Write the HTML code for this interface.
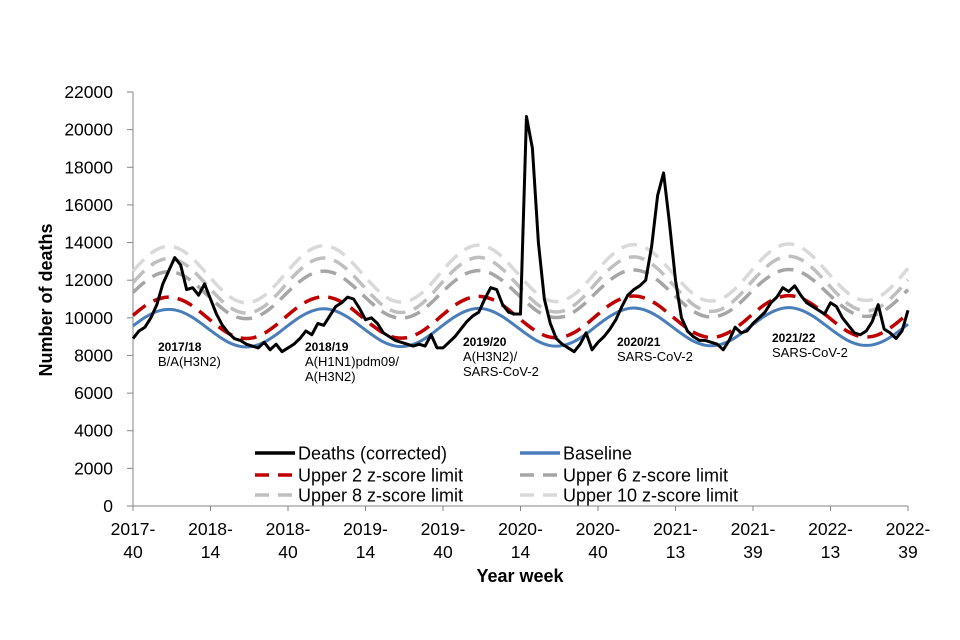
<!DOCTYPE html>
<html><head><meta charset="utf-8"><style>
body{margin:0;background:#fff;}
svg{display:block;font-family:"Liberation Sans",Arial,sans-serif;}
</style></head><body>
<svg id="chart" width="960" height="640" viewBox="0 0 960 640">
<g id="axes"></g>
<g id="series"></g>
<g id="notes"></g>
<g id="legend"></g>
<text x="520" y="582" text-anchor="middle" font-size="18" font-weight="bold">Year week</text>
<text transform="translate(52,300) rotate(-90)" text-anchor="middle" font-size="18" font-weight="bold">Number of deaths</text>
</svg>
<script>
const yTicks=[0,2000,4000,6000,8000,10000,12000,14000,16000,18000,20000,22000];
const xTickWeeks=[0,26,52,78,104,130,156,182,208,234,260];
const xTickLabels=[["2017-","40"],["2018-","14"],["2018-","40"],["2019-","14"],["2019-","40"],["2020-","14"],["2020-","40"],["2021-","13"],["2021-","39"],["2022-","13"],["2022-","39"]];
// deaths every 2 weeks from 2017-40
const deaths=[8900,9300,9500,10000,10700,11800,12500,13200,12800,11500,11600,11200,11800,11000,10200,9600,9200,8900,8800,8600,8500,8400,8700,8300,8600,8200,8400,8600,8900,9300,9100,9700,9600,10100,10600,10800,11100,11000,10500,9900,10000,9700,9200,9000,8800,8700,8600,8500,8600,8500,9100,8400,8400,8700,9000,9400,9800,10100,10300,11000,11600,11500,10700,10300,10200,10200,20700,19000,14000,11000,9700,8900,8600,8400,8200,8600,9200,8300,8700,9000,9400,9900,10600,11200,11500,11700,12000,13800,16500,17700,15000,12000,10000,9300,9000,8800,8800,8700,8600,8300,8800,9500,9200,9300,9700,10000,10300,10800,11100,11600,11400,11700,11200,10800,10600,10400,10200,10800,10600,10000,9600,9200,9100,9300,9800,10700,9400,9200,8900,9300,10400];
// smooth series every 4 weeks
const baseline=[9570,10020,10335,10450,10335,10020,9570,9100,8700,8480,8480,8700,9100,9590,10040,10360,10480,10360,10040,9590,9120,8720,8500,8500,8720,9120,9610,10060,10380,10500,10380,10060,9610,9140,8740,8520,8520,8740,9140,9630,10080,10400,10520,10400,10080,9630,9160,8760,8540,8540,8760,9160,9650,10100,10420,10540,10420,10100,9650,9180,8780,8560,8560,8780,9180,9660];
const upper2=[10130,10630,10970,11100,10970,10630,10130,9615,9175,8930,8930,9175,9615,10150,10650,10990,11120,10990,10650,10150,9635,9195,8950,8950,9195,9635,10170,10670,11010,11140,11010,10670,10170,9655,9215,8970,8970,9215,9655,10190,10690,11030,11160,11030,10690,10190,9675,9235,8990,8990,9235,9675,10210,10710,11050,11180,11050,10710,10210,9695,9255,9010,9010,9255,9695,10230];
const upper6=[11350,11910,12310,12450,12310,11910,11350,10760,10260,9990,9990,10260,10760,11380,11940,12340,12480,12340,11940,11380,10790,10290,10020,10020,10290,10790,11410,11970,12370,12510,12370,11970,11410,10820,10320,10050,10050,10320,10820,11440,12000,12400,12540,12400,12000,11440,10850,10350,10080,10080,10350,10850,11470,12030,12430,12570,12430,12030,11470,10880,10380,10110,10110,10380,10880,11500];
const upper8=[11875,12525,12985,13150,12985,12525,11875,11190,10610,10295,10295,10610,11190,11900,12550,13010,13180,13010,12550,11900,11220,10640,10320,10320,10640,11220,11930,12580,13040,13210,13040,12580,11930,11250,10670,10350,10350,10670,11250,11960,12610,13070,13240,13070,12610,11960,11280,10700,10380,10380,10700,11280,11990,12640,13100,13270,13100,12640,11990,11310,10730,10410,10410,10730,11310,12020];
const upper10=[12480,13155,13630,13800,13630,13155,12480,11775,11175,10845,10845,11175,11775,12510,13185,13660,13830,13660,13185,12510,11805,11205,10875,10875,11205,11805,12540,13215,13690,13860,13690,13215,12540,11835,11235,10905,10905,11235,11835,12570,13245,13720,13890,13720,13245,12570,11865,11265,10935,10935,11265,11865,12600,13275,13750,13920,13750,13275,12600,11895,11295,10965,10965,11295,11895,12630];
const notes=[[158,"2017/18",["B/A(H3N2)"],351],[305,"2018/19",["A(H1N1)pdm09/","A(H3N2)"],351],[463,"2019/20",["A(H3N2)/","SARS-CoV-2"],346],[617,"2020/21",["SARS-CoV-2"],346],[772,"2021/22",["SARS-CoV-2"],342]];

const NS="http://www.w3.org/2000/svg";
const X0=133,X1=908,Y0=506,Y1=92,WMAX=260,YMAX=22000;
const xs=w=>X0+(X1-X0)*w/WMAX;
const ys=v=>Y0-(Y0-Y1)*v/YMAX;
function el(tag,attrs,parent){const e=document.createElementNS(NS,tag);for(const k in attrs)e.setAttribute(k,attrs[k]);parent.appendChild(e);return e;}
const axes=document.getElementById('axes');
let a=el('line',{x1:X0,y1:Y1,x2:X0,y2:Y0,stroke:'#868686','stroke-width':1},axes);


a=el('line',{x1:X0,y1:Y0,x2:X1,y2:Y0,stroke:'#868686','stroke-width':1},axes);


yTicks.forEach(v=>{
  const t=el('line',{x1:X0-6,x2:X0,y1:ys(v),y2:ys(v),stroke:'#868686'},axes);
  
  
  const l=el('text',{x:X0-20,y:ys(v)+6,'text-anchor':'end','font-size':17.5},axes);
  l.textContent=v;
  
  
});
xTickWeeks.forEach((w,i)=>{
  const t=el('line',{x1:xs(w),x2:xs(w),y1:Y0,y2:Y0+5,stroke:'#868686'},axes);
  
  
  const l=el('text',{x:xs(w),y:535,'text-anchor':'middle','font-size':17.5},axes);
  
  
  const a1=el('tspan',{x:xs(w),dy:0},l);a1.textContent=xTickLabels[i][0];
  const a2=el('tspan',{x:xs(w),dy:23},l);a2.textContent=xTickLabels[i][1];
});
function smoothPath(vals,step){
  const p=vals.map((v,i)=>[xs(Math.min(i*step,WMAX)),ys(v)]);
  let d='M'+p[0][0]+','+p[0][1];
  for(let i=0;i<p.length-1;i++){
    const p0=p[Math.max(i-1,0)],p1=p[i],p2=p[i+1],p3=p[Math.min(i+2,p.length-1)];
    d+=' C'+(p1[0]+(p2[0]-p0[0])/6)+','+(p1[1]+(p2[1]-p0[1])/6)+' '+(p2[0]-(p3[0]-p1[0])/6)+','+(p2[1]-(p3[1]-p1[1])/6)+' '+p2[0]+','+p2[1];
  }
  return d;
}
function linePath(vals,step){return vals.map((v,i)=>(i?'L':'M')+xs(i*step)+','+ys(v)).join(' ');}
const S=document.getElementById('series');
let s;
s=el('path',{d:smoothPath(upper10,4),fill:'none',stroke:'#d9d9d9','stroke-width':3.5,'stroke-dasharray':'16,9'},S);


s=el('path',{d:smoothPath(upper8,4),fill:'none',stroke:'#bfbfbf','stroke-width':3.5,'stroke-dasharray':'16,9'},S);


s=el('path',{d:smoothPath(upper6,4),fill:'none',stroke:'#a6a6a6','stroke-width':3.5,'stroke-dasharray':'16,9'},S);


s=el('path',{d:smoothPath(upper2,4),fill:'none',stroke:'#c00000','stroke-width':3.5,'stroke-dasharray':'16,9'},S);


s=el('path',{d:smoothPath(baseline,4),fill:'none',stroke:'#4a7ebb','stroke-width':3},S);


s=el('path',{d:linePath(deaths,2),fill:'none',stroke:'#000','stroke-width':3,'stroke-linejoin':'round'},S);


const N=document.getElementById('notes');
notes.forEach(n=>{
  const t=el('text',{x:n[0],y:n[3],'font-size':12,'font-weight':'bold'},N);
  t.textContent=n[1];
  
  
  n[2].forEach((line,j)=>{
    const u=el('text',{x:n[0],y:n[3]+15*(j+1),'font-size':13},N);
    u.textContent=line;
    
    
  });
});
const L=document.getElementById('legend');
const leg=[["Deaths (corrected)","#000",null,255,453],["Baseline","#4a7ebb",null,520,453],["Upper 2 z-score limit","#c00000","14,9",255,475],["Upper 6 z-score limit","#a6a6a6","14,9",520,475],["Upper 8 z-score limit","#bfbfbf","14,9",255,495],["Upper 10 z-score limit","#d9d9d9","14,9",520,495]];
leg.forEach(g=>{
  const attrs={x1:g[3],x2:g[3]+40,y1:g[4],y2:g[4],stroke:g[1],'stroke-width':3.5};
  if(g[2])attrs['stroke-dasharray']=g[2];
  const ln=el('line',attrs,L);
  
  
  const t=el('text',{x:g[3]+43,y:g[4]+6.5,'font-size':18},L);
  t.textContent=g[0];
  
  
});
</script>
</body></html>
